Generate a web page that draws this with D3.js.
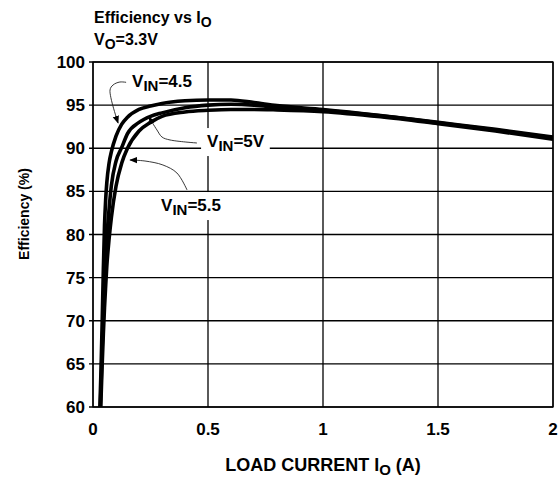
<!DOCTYPE html>
<html>
<head>
<meta charset="utf-8">
<script src="https://cdn.jsdelivr.net/npm/d3@7"></script>
<style>
  body { margin: 0; background: #fff; }
  text { font-family: "Liberation Sans", Arial, Helvetica, sans-serif; font-weight: bold; fill: #000; }
</style>
</head>
<body>
<div id="chart"></div>
<script>
// Chart data
var loadCurrent = [0.03, 0.035, 0.04, 0.045, 0.05, 0.055, 0.06, 0.07, 0.08, 0.1, 0.125, 0.15, 0.2,
  0.25, 0.3, 0.4, 0.5, 0.6, 0.7, 0.8, 1.0, 1.25, 1.5, 1.75, 2.0];
var effVin45 = [60, 64.5, 70, 76, 81, 84, 86, 88.3, 89.6, 91.4, 92.8, 93.6, 94.5,
  94.9, 95.2, 95.5, 95.6, 95.6, 95.3, 94.95, 94.5, 93.8, 93.0, 92.2, 91.3];
var effVin5 = [58.5, 62.5, 67, 70.5, 74, 77, 79.5, 83, 85.7, 88.5, 90.1, 91.7, 93.0,
  93.7, 94.1, 94.7, 95.0, 95.1, 95.0, 94.75, 94.4, 93.75, 92.95, 92.1, 91.2];
var effVin55 = [57, 61, 65, 68.5, 71.5, 74, 76.3, 79.5, 82, 85.6, 88.3, 90.0, 92.0,
  93.0, 93.7, 94.2, 94.4, 94.5, 94.5, 94.45, 94.25, 93.65, 92.85, 92.0, 91.05];
var xTicks = [0, 0.5, 1, 1.5, 2];
var xTickLabels = ["0", "0.5", "1", "1.5", "2"];
var yTicks = [60, 65, 70, 75, 80, 85, 90, 95, 100];

// Annotation labels and arrow paths, in data units
var vinLabels = ["4.5", "5V", "5.5"];
var labelPos = [[0.170, 97.1], [0.496, 90.14], [0.296, 82.72]];
var arrowPaths = [
  [[0.161, 97.57], [0.117, 97.68], [0.087, 97.33], [0.074, 96.75], [0.109, 92.93]],
  [[0.452, 90.61], [0.335, 90.96], [0.300, 91.30], [0.278, 92.12], [0.243, 93.62]],
  [[0.409, 85.16], [0.365, 87.13], [0.304, 88.06], [0.226, 88.52], [0.161, 88.64]]
];

var width = 560, height = 480;
var margin = { top: 62, right: 7, bottom: 73, left: 93 };

var svg = d3.select("#chart").append("svg")
  .attr("width", width)
  .attr("height", height);

var x = d3.scaleLinear().domain([0, 2]).range([margin.left, width - margin.right]);
var y = d3.scaleLinear().domain([60, 100]).range([height - margin.bottom, margin.top]);

// Arrow head marker
svg.append("defs").append("marker")
  .attr("id", "head")
  .attr("viewBox", "0 0 10 10")
  .attr("refX", 9).attr("refY", 5)
  .attr("markerWidth", 8).attr("markerHeight", 8)
  .attr("markerUnits", "userSpaceOnUse")
  .attr("orient", "auto")
  .append("path")
  .attr("d", "M0,1 L10,5 L0,9 Z")
  .attr("fill", "#000");

svg.select("defs").append("clipPath")
  .attr("id", "plot-clip")
  .append("rect")
  .attr("x", x(0)).attr("y", y(100))
  .attr("width", x(2) - x(0)).attr("height", y(60) - y(100));

// Grid
var grid = svg.append("g").attr("stroke", "#000").attr("stroke-width", 1.3);
grid.selectAll(".hl").data(yTicks).join("line")
  .attr("x1", x(0) - 4).attr("x2", x(2))
  .attr("y1", function (d) { return y(d); })
  .attr("y2", function (d) { return y(d); });
grid.selectAll(".vl").data(xTicks).join("line")
  .attr("x1", function (d) { return x(d); })
  .attr("x2", function (d) { return x(d); })
  .attr("y1", y(100)).attr("y2", y(60));

// Tick labels
svg.append("g").selectAll("text").data(yTicks).join("text")
  .attr("x", x(0) - 8)
  .attr("y", function (d) { return y(d); })
  .attr("dy", "0.36em")
  .attr("text-anchor", "end")
  .style("font-size", "17px")
  .text(function (d) { return d; });

svg.append("g").selectAll("text").data(xTicks).join("text")
  .attr("x", function (d) { return x(d); })
  .attr("y", y(60) + 28)
  .attr("text-anchor", "middle")
  .style("font-size", "17px")
  .text(function (d, i) { return xTickLabels[i]; });

// Annotation labels with white boxes behind them
var annot = svg.append("g");
vinLabels.forEach(function (lab, i) {
  var g = annot.append("g");
  var t = g.append("text")
    .attr("x", x(labelPos[i][0]))
    .attr("y", y(labelPos[i][1]))
    .style("font-size", "17px");
  t.append("tspan").text("V");
  t.append("tspan").attr("dy", 4).style("font-size", "15px").text("IN");
  t.append("tspan").attr("dy", -4).text("=" + lab);
  var bb = t.node().getBBox();
  g.insert("rect", "text")
    .attr("x", bb.x - 6).attr("y", bb.y - 4)
    .attr("width", bb.width + 11).attr("height", bb.height + 6)
    .attr("fill", "#fff");
});

// Efficiency curves
var line = d3.line()
  .x(function (d) { return x(d[0]); })
  .y(function (d) { return y(d[1]); })
  .curve(d3.curveMonotoneX);

var series = [effVin45, effVin5, effVin55];
svg.append("g").attr("clip-path", "url(#plot-clip)")
  .selectAll("path").data(series).join("path")
  .attr("d", function (s) { return line(loadCurrent.map(function (c, i) { return [c, s[i]]; })); })
  .attr("fill", "none")
  .attr("stroke", "#000")
  .attr("stroke-width", 3.6)
  .attr("stroke-linejoin", "round");

// Plot border
svg.append("rect")
  .attr("x", x(0)).attr("y", y(100))
  .attr("width", x(2) - x(0)).attr("height", y(60) - y(100))
  .attr("fill", "none").attr("stroke", "#000").attr("stroke-width", 1.3);

// Arrows
var arrowLine = d3.line()
  .x(function (d) { return x(d[0]); })
  .y(function (d) { return y(d[1]); })
  .curve(d3.curveCatmullRom);
svg.append("g").selectAll("path").data(arrowPaths).join("path")
  .attr("d", arrowLine)
  .attr("fill", "none")
  .attr("stroke", "#222")
  .attr("stroke-width", 0.9)
  .attr("marker-end", "url(#head)");
annot.raise();

// Titles
var t1 = svg.append("text").attr("x", 94).attr("y", 23).style("font-size", "16px");
t1.append("tspan").text("Efficiency vs I");
t1.append("tspan").attr("dy", 4).style("font-size", "14px").text("O");

var t2 = svg.append("text").attr("x", 94).attr("y", 45).style("font-size", "16px");
t2.append("tspan").text("V");
t2.append("tspan").attr("dy", 4).style("font-size", "14px").text("O");
t2.append("tspan").attr("dy", -4).text("=3.3V");

var xl = svg.append("text")
  .attr("x", x(1)).attr("y", 471)
  .attr("text-anchor", "middle")
  .style("font-size", "18px");
xl.append("tspan").text("LOAD CURRENT I");
xl.append("tspan").attr("dy", 4).style("font-size", "15px").text("O");
xl.append("tspan").attr("dy", -4).text(" (A)");

svg.append("text")
  .attr("transform", "translate(29," + 214 + ") rotate(-90)")
  .attr("text-anchor", "middle")
  .style("font-size", "14px")
  .text("Efficiency (%)");
</script>
</body>
</html>
